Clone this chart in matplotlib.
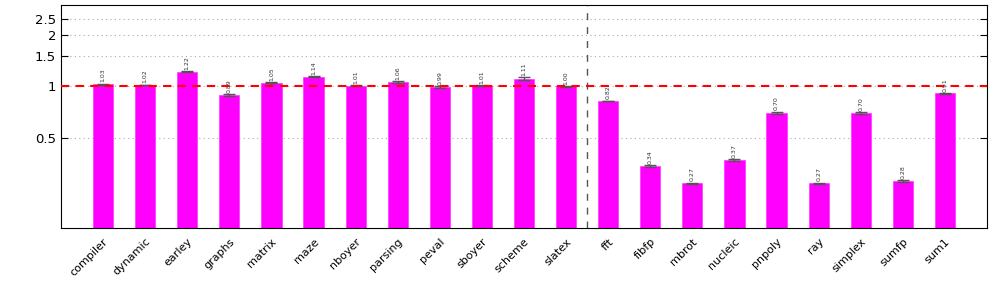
import numpy as np
import matplotlib.pyplot as plt
from matplotlib.ticker import FixedLocator, FixedFormatter, NullLocator

benchmarks = ['compiler', 'dynamic', 'earley', 'graphs', 'matrix', 'maze', 'nboyer',
              'parsing', 'peval', 'sboyer', 'scheme', 'slatex',
              'fft', 'fibfp', 'mbrot', 'nucleic', 'pnpoly', 'ray', 'simplex', 'sumfp', 'sum1']
speedup = [1.03, 1.02, 1.22, 0.89, 1.05, 1.14, 1.01, 1.06, 0.99, 1.01, 1.11, 1.00,
           0.82, 0.34, 0.27, 0.37, 0.70, 0.27, 0.70, 0.28, 0.91]
err = [0.005, 0.005, 0.006, 0.008, 0.006, 0.008, 0.004, 0.012, 0.012, 0.004, 0.02, 0.005,
       0.004, 0.004, 0.003, 0.004, 0.012, 0.003, 0.007, 0.003, 0.005]
n_int = 12  # integer benchmarks before the divider

yticks = [0.5, 1, 1.5, 2, 2.5]
ytick_labels = ['0.5', '1', '1.5', '2', '2.5']

fig = plt.figure(figsize=(9.97, 2.85), dpi=100)
ax = fig.add_axes([61/997, 1 - 228/285, 926/997, 223/285])

x = np.arange(len(benchmarks))
ax.bar(x, speedup, width=0.48, color='#ff00ff', edgecolor='#ff33ff', linewidth=0.5, zorder=2)
ax.errorbar(x, speedup, yerr=err, fmt='none', ecolor='#555555', elinewidth=1.0,
            capsize=4, capthick=1.0, zorder=3)

for xi, v, e in zip(x, speedup, err):
    ax.text(xi, v * 1.02 + e, f'{v:.2f}', rotation=90, ha='center', va='bottom',
            fontsize=4.5, color='#333333', zorder=4)

ax.set_yscale('log')
ax.set_ylim(0.148, 3.0)
ax.set_xlim(-1, len(benchmarks))
ax.yaxis.set_major_locator(FixedLocator(yticks))
ax.yaxis.set_major_formatter(FixedFormatter(ytick_labels))
ax.yaxis.set_minor_locator(NullLocator())
ax.grid(axis='y', linestyle=(0, (1, 3)), color='#aaaaaa', linewidth=0.8, zorder=0)

ax.axhline(1.0, color='red', linestyle=(0, (4, 3)), linewidth=1.5, zorder=5)
ax.axvline(n_int - 0.5, color='#555555', linestyle=(0, (5, 5)), linewidth=1.0, zorder=1)

ax.set_xticks(x)
ax.set_xticklabels(benchmarks, rotation=45, ha='right', rotation_mode='anchor', fontsize=8)
ax.tick_params(axis='x', length=0, pad=6)
ax.tick_params(axis='y', direction='in', length=5, right=True, labelsize=9.5)

plt.savefig('out.png', dpi=100)
